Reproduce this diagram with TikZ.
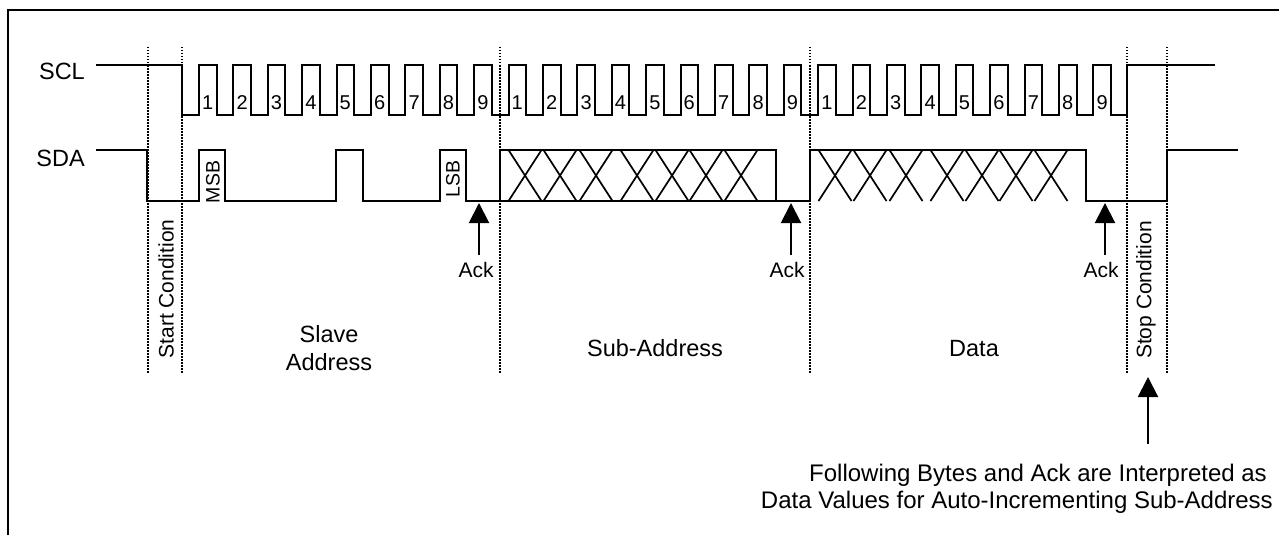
\documentclass[tikz,border=0pt]{standalone}
\usepackage{fontspec}
\setmainfont{Liberation Sans}
\usetikzlibrary{arrows.meta}
\begin{document}
\begin{tikzpicture}[x=1pt,y=-1pt,
  sig/.style={line width=2pt,line join=miter},
  xsig/.style={line width=1.7pt},
  divider/.style={line width=1.4pt,dash pattern=on 1.5pt off 1.5pt},
  frameline/.style={line width=2pt},
  ackarrow/.style={line width=2pt,-{Triangle[length=20pt,width=20pt]}},
  big/.style={inner sep=0pt,font=\fontsize{23.5}{28}\selectfont},
  mid/.style={inner sep=0pt,font=\fontsize{21}{25}\selectfont},
  dig/.style={inner sep=0pt,anchor=base,font=\fontsize{20}{24}\selectfont},
  bit/.style={inner sep=0pt,rotate=90,font=\fontsize{19.5}{23}\selectfont},
  note/.style={inner sep=0pt,anchor=base east,font=\fontsize{24}{28}\selectfont}]
\useasboundingbox (0,0) rectangle (1279,535);
% frame
\draw[frameline] (8,536) -- (8,10) -- (1280,10);
% dividers
\foreach \x [count=\i] in {148,182,500,810,1127,1167}
  \draw[divider] (\x,47) -- (\x,373);
% labels
\node[big,anchor=base east] (scl) at (85,80) {SCL};
\node[big,anchor=base east] (sda) at (85,166) {SDA};
% SCL
\draw[sig] (96,65) -- (182,65) -- (182,115)
  \foreach \k in {0,...,26} { -- ({199+34.4*\k},115) -- ++(0,-50) -- ++(17.5,0) -- ++(0,50) }
  -- (1127,115) -- (1127,65) -- (1215,65);
\foreach \b in {0,1,2}
  \foreach \d in {1,...,9}
    \node[dig] (n\b\d) at ({199+34.4*(9*\b+\d-1)+8.7},109) {\d};
% SDA
\draw[sig] (96,150) -- (147,150) -- (147,201) -- (199,201) -- (199,150) -- (225,150)
  -- (225,201) -- (336,201) -- (336,150) -- (363,150) -- (363,201) -- (440,201)
  -- (440,150) -- (466,150) -- (466,201) -- (500,201) -- (500,150) -- (776,150)
  -- (776,201) -- (500,201);
\draw[sig] (776,201) -- (810,201) -- (810,150) -- (1086,150) -- (1086,201)
  -- (1167,201) -- (1167,150) -- (1238,150);
\foreach \off in {0,310}
  \foreach \c in {525,560,596,637,672,706,741}
    \draw[xsig] ({\c+\off-16.5},150) -- ({\c+\off+16.5},201)
                ({\c+\off-16.5},201) -- ({\c+\off+16.5},150);
\node[bit] (msb) at (213,182) {MSB};
\node[bit] (lsb) at (453,179) {LSB};
% acks
\node[mid,anchor=base] (ack1) at (476,277) {Ack};
\node[mid,anchor=base] (ack2) at (787,277) {Ack};
\node[mid,anchor=base] (ack3) at (1101,277) {Ack};
\coordinate (a1s) at (479,255); \coordinate (a1e) at (479,203);
\coordinate (a2s) at (791,255); \coordinate (a2e) at (791,203);
\coordinate (a3s) at (1105,255); \coordinate (a3e) at (1105,203);
\draw[ackarrow] (a1s) -- (a1e);
\draw[ackarrow] (a2s) -- (a2e);
\draw[ackarrow] (a3s) -- (a3e);
% section labels
\node[mid,rotate=90] (start) at (166,289) {Start Condition};
\node[mid,rotate=90] (stop) at (1146,290) {Stop Condition};
\node[big,anchor=base] (slave) at (329,342) {Slave};
\node[big,anchor=base] (addr) at (329,370) {Address};
\node[big,anchor=base] (sub) at (655,356) {Sub-Address};
\node[big,anchor=base] (data) at (974,356) {Data};
% note
\coordinate (ns) at (1148,444); \coordinate (ne) at (1148,377);
\draw[ackarrow] (ns) -- (ne);
\node[note] (note1) at (1267,481) {Following Bytes and Ack are Interpreted as};
\node[note] (note2) at (1273,508) {Data Values for Auto-Incrementing Sub-Address};
\end{tikzpicture}
\end{document}
